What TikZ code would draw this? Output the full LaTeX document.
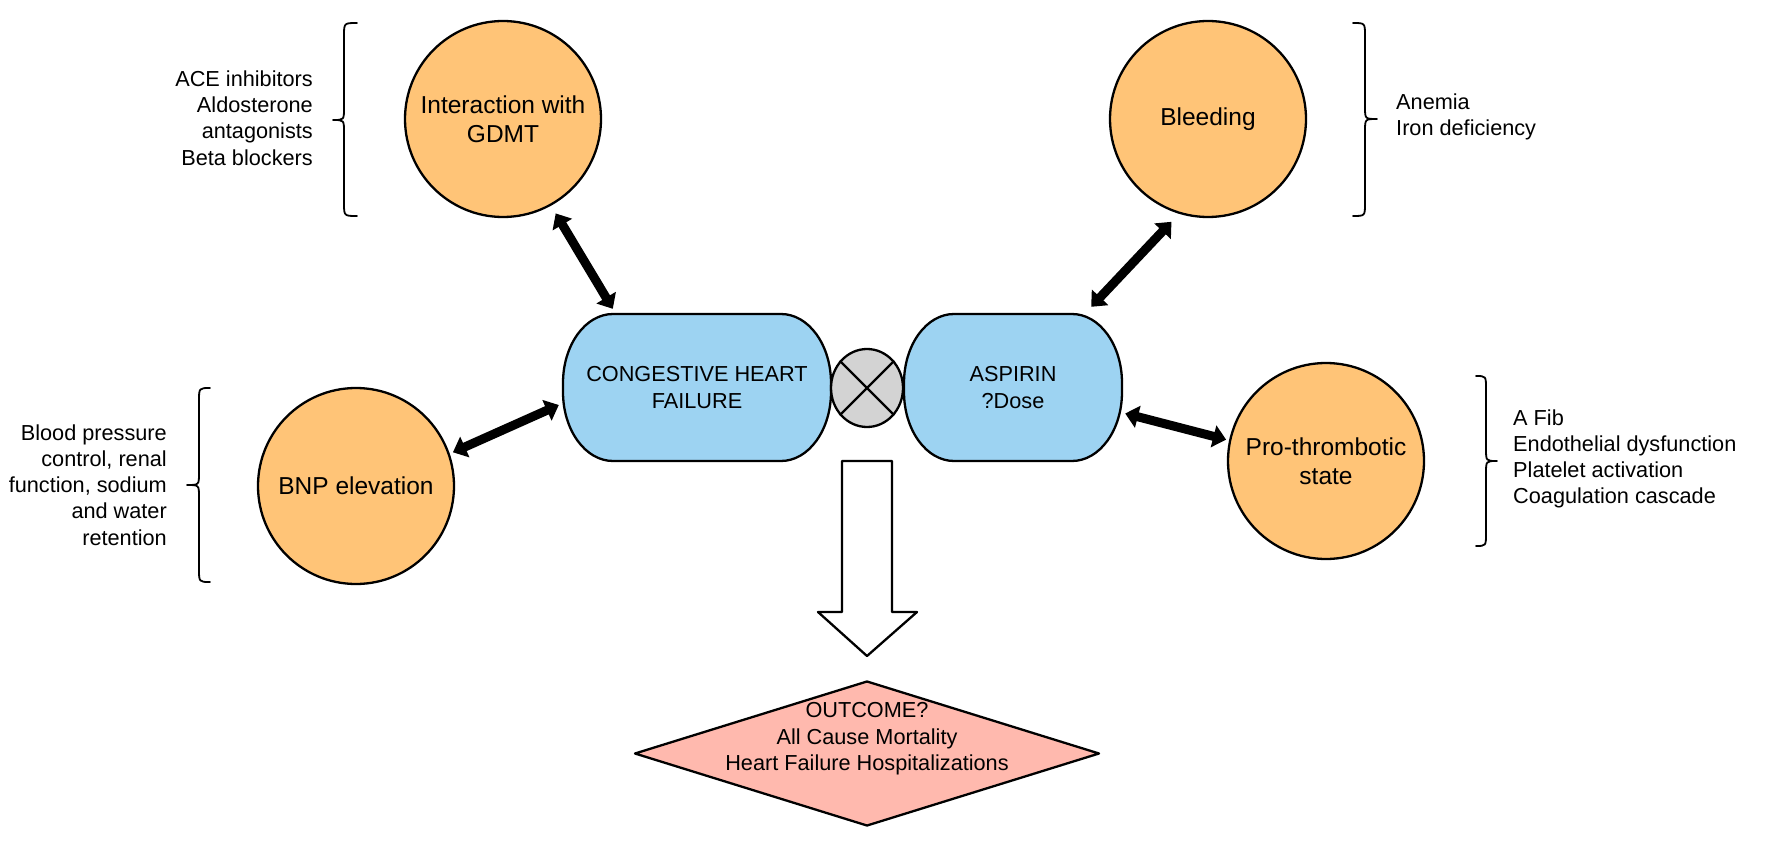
\documentclass[tikz,border=0pt]{standalone}
\usepackage{fontspec}
\setmainfont{Liberation Sans}
\usetikzlibrary{arrows.meta,shapes.geometric}
\definecolor{orangefill}{HTML}{FFC477}
\definecolor{bluefill}{HTML}{9DD3F2}
\definecolor{grayfill}{HTML}{D3D3D3}
\definecolor{pinkfill}{HTML}{FFB9AE}
\tikzset{
  bigcircle/.style={circle, draw=black, line width=2.3pt, fill=orangefill, minimum size=196pt, inner sep=0pt, align=center, font=\fontsize{24.5}{29.5}\selectfont},
  listtext/.style={inner sep=0pt, font=\fontsize{21.7}{26.2}\selectfont},
  boxtext/.style={rectangle, inner sep=0pt, align=center, font=\fontsize{21.7}{26.6}\selectfont},
  bluebox/.style={draw=black, line width=2.3pt, fill=bluefill},
  dbl/.style={line width=9pt, {Triangle[width=22pt,length=13pt]}-{Triangle[width=22pt,length=13pt]}},
  bracepath/.style={draw=black, line width=1.8pt, line cap=round},
}
\begin{document}
\begin{tikzpicture}[x=1pt,y=-1pt,line join=round]
\useasboundingbox[fill=white] (0,0) rectangle (1772,842);

% blue boxes
\draw[bluebox] (613,314) -- (781,314) arc[start angle=90,end angle=0,x radius=50pt,y radius=69pt]
  -- (831,392) arc[start angle=0,end angle=-90,x radius=50pt,y radius=69pt]
  -- (613,461) arc[start angle=-90,end angle=-180,x radius=50pt,y radius=69pt]
  -- (563,383) arc[start angle=180,end angle=90,x radius=50pt,y radius=69pt] -- cycle;
\node[boxtext, minimum width=268pt, minimum height=147pt] (chf) at (697,387.5) {};
\node[boxtext] (chftext) at (697,387.5) {CONGESTIVE HEART\\FAILURE};

\draw[bluebox] (954,314) -- (1072,314) arc[start angle=90,end angle=0,x radius=50pt,y radius=69pt]
  -- (1122,392) arc[start angle=0,end angle=-90,x radius=50pt,y radius=69pt]
  -- (954,461) arc[start angle=-90,end angle=-180,x radius=50pt,y radius=69pt]
  -- (904,383) arc[start angle=180,end angle=90,x radius=50pt,y radius=69pt] -- cycle;
\node[boxtext, minimum width=218pt, minimum height=147pt] (asp) at (1013,387.5) {};
\node[boxtext] (asptext) at (1013,387.5) {ASPIRIN\\?Dose};

% interaction symbol
\node[ellipse, draw=black, line width=2.3pt, fill=grayfill, minimum width=72pt, minimum height=78pt, inner sep=0pt] (x) at (867,388) {};
\draw[line width=2.3pt] (x.45) -- (x.225);
\draw[line width=2.3pt] (x.135) -- (x.-45);

% circles
\node[bigcircle] (gdmt) at (503,119) {Interaction with\\GDMT};
\node[bigcircle] (bleed) at (1208,119) {Bleeding};
\node[bigcircle] (bnp) at (356,486) {BNP elevation};
\node[bigcircle] (pro) at (1326,461) {Pro-thrombotic\\state};

% double arrows
\draw[dbl, shorten <=9pt] (gdmt.-61.5) -- ([xshift=50pt,yshift=5pt]chf.north west);
\draw[dbl, shorten <=11pt] (bleed.-107.1) -- ([xshift=-31pt,yshift=7pt]asp.north east);
\draw[dbl, shorten <=3.5pt] (bnp.19) -- ([xshift=-4pt,yshift=-17.5pt]chf.west);
\draw[dbl, shorten <=3pt] (pro.168) -- ([xshift=3pt,yshift=-26pt]asp.east);

% hollow arrow
\draw[line width=2.3pt, fill=white] (842,461) -- (842,612) -- (818,612) -- (867,656) -- (917,612) -- (892,612) -- (892,461) -- cycle;

% outcome diamond
\node[diamond, draw=black, line width=2.3pt, fill=pinkfill, minimum width=465pt, minimum height=145pt, inner sep=0pt] (out) at (867,753.5) {};
\node[boxtext] (outtext) at (867,739) {OUTCOME?\\All Cause Mortality\\Heart Failure Hospitalizations};

% braces
\draw[bracepath] (357,23) .. controls (344,23) .. (344,36) -- (344,108) .. controls (344,120) .. (333,120)
  .. controls (344,120) .. (344,132) -- (344,203) .. controls (344,216) .. (357,216);
\draw[bracepath] (210,388) .. controls (199,388) .. (199,401) -- (199,473) .. controls (199,485) .. (187,485)
  .. controls (199,485) .. (199,497) -- (199,569) .. controls (199,582) .. (210,582);
\draw[bracepath] (1353,23) .. controls (1365,23) .. (1365,36) -- (1365,107) .. controls (1365,119) .. (1377,119)
  .. controls (1365,119) .. (1365,131) -- (1365,203) .. controls (1365,216) .. (1353,216);
\draw[bracepath] (1476,376) .. controls (1486,376) .. (1486,389) -- (1486,449) .. controls (1486,461) .. (1497,461)
  .. controls (1486,461) .. (1486,473) -- (1486,533) .. controls (1486,546) .. (1476,546);

% lists
\node[listtext, align=right, anchor=east] (gdmtlist) at (313,118) {ACE inhibitors\\Aldosterone\\antagonists\\Beta blockers};
\node[listtext, align=right, anchor=east] (bnplist) at (167,485) {Blood pressure\\control, renal\\function, sodium\\and water\\retention};
\node[listtext, align=left, anchor=west] (bleedlist) at (1396,117) {Anemia\\Iron deficiency};
\node[listtext, align=left, anchor=west] (prolist) at (1513,459) {A Fib\\Endothelial dysfunction\\Platelet activation\\Coagulation cascade};
\end{tikzpicture}
\end{document}
